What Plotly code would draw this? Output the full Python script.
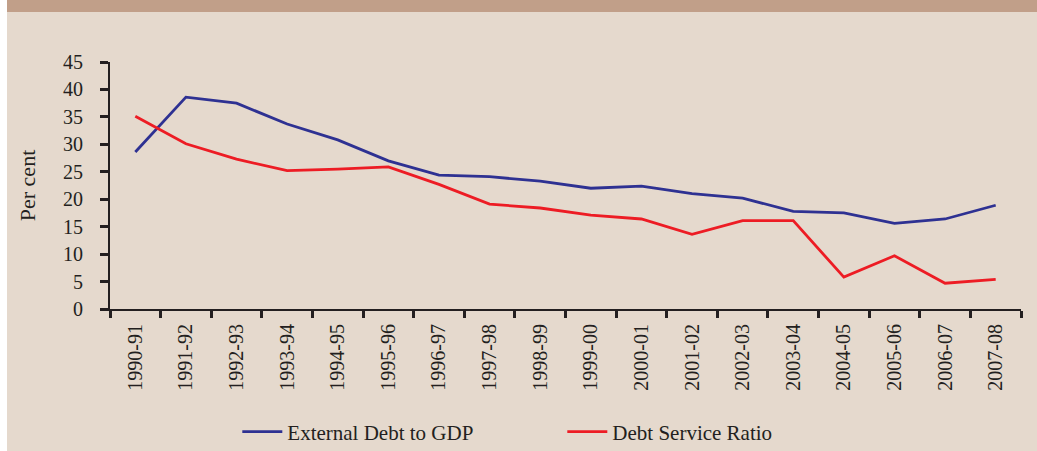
import plotly.graph_objects as go

years = ["1990-91", "1991-92", "1992-93", "1993-94", "1994-95", "1995-96",
         "1996-97", "1997-98", "1998-99", "1999-00", "2000-01", "2001-02",
         "2002-03", "2003-04", "2004-05", "2005-06", "2006-07", "2007-08"]
ext_debt_gdp = [28.6, 38.6, 37.5, 33.7, 30.8, 27.0, 24.4, 24.1, 23.3, 22.0,
                22.4, 21.0, 20.2, 17.8, 17.5, 15.6, 16.4, 18.9]
debt_service = [35.1, 30.1, 27.3, 25.2, 25.5, 25.9, 22.7, 19.1, 18.4, 17.1,
                16.4, 13.6, 16.1, 16.1, 5.8, 9.7, 4.7, 5.4]
y_ticks = [0, 5, 10, 15, 20, 25, 30, 35, 40, 45]

BG = "#E5D9CD"
BAND = "#C19F89"
INK = "#231F20"
FONT = "Liberation Serif"
W, H = 1037, 451
ML, MR, MT, MB = 110, 16, 62, 142
PW, PH = W - ML - MR, H - MT - MB

fig = go.Figure()
fig.add_trace(go.Scatter(x=years, y=ext_debt_gdp, mode="lines",
                         name="External Debt to GDP",
                         line=dict(color="#2E3192", width=2.8)))
fig.add_trace(go.Scatter(x=years, y=debt_service, mode="lines",
                         name="Debt Service Ratio",
                         line=dict(color="#ED1C24", width=2.8)))

def px_x(p):
    return (p - ML) / PW

def px_y(p):
    return 1 - (p - MT) / PH

shapes = [
    dict(type="rect", xref="paper", yref="paper", x0=px_x(0), x1=px_x(W),
         y0=px_y(12), y1=px_y(0), fillcolor=BAND, line=dict(width=0), layer="below"),
    dict(type="rect", xref="paper", yref="paper", x0=px_x(0), x1=px_x(7),
         y0=px_y(H), y1=px_y(0), fillcolor="white", line=dict(width=0), layer="below"),
]

fig.update_layout(
    width=W, height=H,
    margin=dict(l=ML, r=MR, t=MT, b=MB, autoexpand=False),
    paper_bgcolor=BG, plot_bgcolor=BG,
    font=dict(family=FONT, color=INK, size=20),
    shapes=shapes,
    showlegend=True,
    legend=dict(orientation="h", x=0.4965, xanchor="center", y=px_y(432), yanchor="middle",
                font=dict(family=FONT, size=21, color=INK),
                bgcolor="rgba(0,0,0,0)", entrywidth=270, itemwidth=40),
)
fig.update_xaxes(
    type="category", range=[-0.5, len(years) - 0.5],
    tickangle=-90, tickson="boundaries", ticks="outside", ticklen=7, tickwidth=2.5,
    tickcolor=INK, showline=True, linecolor=INK, linewidth=2,
    showgrid=False, zeroline=False, tickfont=dict(family=FONT, size=20, color=INK),
    ticklabelstandoff=5,
)
fig.update_yaxes(
    range=[0, 45], tickvals=y_ticks, ticks="outside", ticklen=8, tickwidth=2.5,
    tickcolor=INK, showline=True, linecolor=INK, linewidth=2,
    showgrid=False, zeroline=False, tickfont=dict(family=FONT, size=20, color=INK),
    ticklabelstandoff=13,
    title=dict(text="Per cent", font=dict(family=FONT, size=22, color=INK), standoff=21),
)

fig.write_html("out.html", config={"displayModeBar": False},
               post_script="document.body.style.margin='0';")
